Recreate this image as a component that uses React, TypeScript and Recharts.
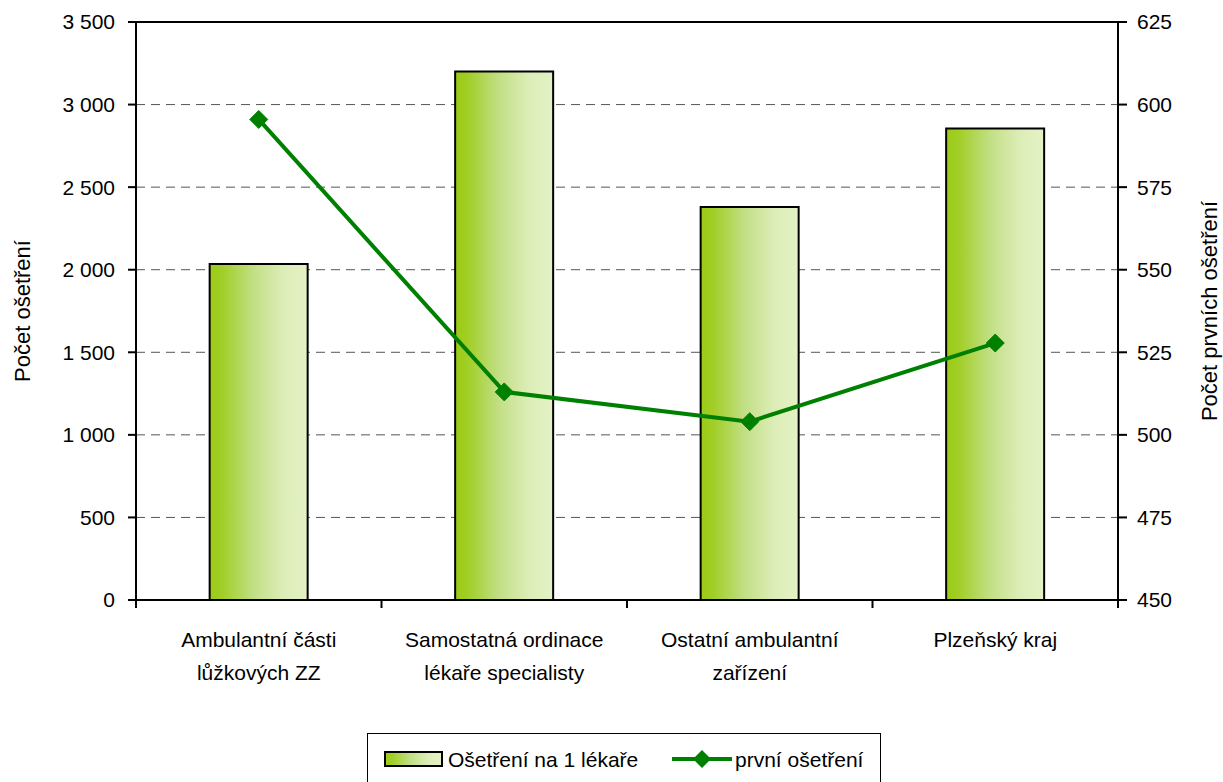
import React from 'react';
import { ComposedChart, Bar, Line, XAxis, YAxis, CartesianGrid, ReferenceLine } from 'recharts';

const categories = [
  'Ambulantní části\nlůžkových ZZ',
  'Samostatná ordinace\nlékaře specialisty',
  'Ostatní ambulantní\nzařízení',
  'Plzeňský kraj',
];
const treatmentsPerDoctor = [2035, 3200, 2380, 2855];
const firstTreatments = [595.5, 513, 504, 527.8];
const leftTicks = [0, 500, 1000, 1500, 2000, 2500, 3000, 3500];
const rightTicks = [450, 475, 500, 525, 550, 575, 600, 625];
const barSeriesName = 'Ošetření na 1 lékaře';
const lineSeriesName = 'první ošetření';
const leftAxisTitle = 'Počet ošetření';
const rightAxisTitle = 'Počet prvních ošetření';

const data = categories.map((c, i) => ({
  category: c,
  perDoctor: treatmentsPerDoctor[i],
  first: firstTreatments[i],
}));

const FONT = '"Liberation Sans", Arial, sans-serif';
const LINE_GREEN = '#008000';

const fmt = (v: number) =>
  v >= 1000 ? `${Math.floor(v / 1000)} ${String(v % 1000).padStart(3, '0')}` : String(v);

const GradientStops = () => (
  <>
    <stop offset="0%" stopColor="#9BCB16" />
    <stop offset="12%" stopColor="#A0CE25" />
    <stop offset="45%" stopColor="#C2DF85" />
    <stop offset="75%" stopColor="#DDEDB7" />
    <stop offset="100%" stopColor="#E4F2C5" />
  </>
);

const CategoryTick = (props: any) => {
  const { x, y, payload, index } = props;
  const lines = String(payload.value).split('\n');
  const half = payload.offset ?? 0;
  const last = index === categories.length - 1;
  return (
    <g>
      <line x1={x - half} x2={x - half} y1={y - 8} y2={y} stroke="#000" strokeWidth={2} />
      {last && <line x1={x + half} x2={x + half} y1={y - 8} y2={y} stroke="#000" strokeWidth={2} />}
      <text x={x} y={y} textAnchor="middle" fontFamily={FONT} fontSize={21} fill="#000">
        {lines.map((l, i) => (
          <tspan key={i} x={x} dy={i === 0 ? 39 : 33}>
            {l}
          </tspan>
        ))}
      </text>
    </g>
  );
};

const Diamond = (props: any) => {
  const { cx, cy, index } = props;
  if (cx == null || cy == null) return <g key={`d${index}`} />;
  const r = 9;
  return (
    <polygon
      key={`d${index}`}
      points={`${cx},${cy - r} ${cx + r},${cy} ${cx},${cy + r} ${cx - r},${cy}`}
      fill={LINE_GREEN}
      stroke={LINE_GREEN}
      strokeWidth={1}
    />
  );
};

const AxisTitle = (title: string, dx: number) => (props: any) => {
  const vb = props.viewBox || {};
  const cx = (vb.x ?? 0) + dx;
  const cy = (vb.y ?? 0) + (vb.height ?? 0) / 2;
  return (
    <text
      x={cx}
      y={cy}
      transform={`rotate(-90 ${cx} ${cy})`}
      textAnchor="middle"
      dominantBaseline="central"
      fontFamily={FONT}
      fontSize={22}
      fill="#000"
    >
      {title}
    </text>
  );
};

export default function App() {
  return (
    <div style={{ position: 'absolute', left: 0, top: 0, width: 1223, height: 782, overflow: 'hidden', background: '#fff' }}>
      <ComposedChart
        width={1223}
        height={782}
        data={data}
        margin={{ top: 22, right: 0, bottom: 82, left: 0 }}
        barCategoryGap="30%"
        style={{ fontFamily: FONT }}
      >
        <defs>
          <linearGradient id="barGrad" x1="0" y1="0" x2="1" y2="0">
            <GradientStops />
          </linearGradient>
        </defs>
        <CartesianGrid yAxisId="left" vertical={false} stroke="#555" strokeDasharray="9 6" strokeWidth={1} />
        <XAxis
          dataKey="category"
          height={100}
          axisLine={{ stroke: '#000', strokeWidth: 2 }}
          tickLine={false}
          tickSize={8}
          tickMargin={0}
          interval={0}
          tick={<CategoryTick />}
        />
        <YAxis
          yAxisId="left"
          orientation="left"
          width={136}
          domain={[0, 3500]}
          ticks={leftTicks}
          tickFormatter={fmt}
          axisLine={{ stroke: '#000', strokeWidth: 2 }}
          tickLine={{ stroke: '#000', strokeWidth: 2 }}
          tickSize={8}
          tickMargin={13}
          tick={{ fill: '#000', fontSize: 21, fontFamily: FONT }}
          label={{ content: AxisTitle(leftAxisTitle, 22) }}
        />
        <YAxis
          yAxisId="right"
          orientation="right"
          width={105}
          domain={[450, 625]}
          ticks={rightTicks}
          axisLine={{ stroke: '#000', strokeWidth: 2 }}
          tickLine={{ stroke: '#000', strokeWidth: 2 }}
          tickSize={9}
          tickMargin={10}
          tick={{ fill: '#000', fontSize: 21, fontFamily: FONT }}
          label={{ content: AxisTitle(rightAxisTitle, 91) }}
        />
        <ReferenceLine yAxisId="left" y={3500} stroke="#000" strokeWidth={2} />
        <Bar
          yAxisId="left"
          dataKey="perDoctor"
          name={barSeriesName}
          fill="url(#barGrad)"
          stroke="#000"
          strokeWidth={2}
          isAnimationActive={false}
        />
        <Line
          yAxisId="right"
          dataKey="first"
          name={lineSeriesName}
          type="linear"
          stroke={LINE_GREEN}
          strokeWidth={4}
          dot={(p: any) => <Diamond key={`dot-${p.index}`} {...p} />}
          activeDot={false}
          isAnimationActive={false}
        />
      </ComposedChart>
      <div
        style={{
          position: 'absolute',
          left: 367,
          top: 733,
          width: 514,
          height: 60,
          border: '1.5px solid #000',
          boxSizing: 'border-box',
        }}
      >
        <svg width={512} height={58} style={{ display: 'block' }}>
          <defs>
            <linearGradient id="legGrad" x1="0" y1="0" x2="1" y2="0">
              <GradientStops />
            </linearGradient>
          </defs>
          <rect x={17} y={18} width={57} height={14} fill="url(#legGrad)" stroke="#000" strokeWidth={2} />
          <text x={80} y={33} fontFamily={FONT} fontSize={21} fill="#000">
            {barSeriesName}
          </text>
          <line x1={304} x2={364} y1={25} y2={25} stroke={LINE_GREEN} strokeWidth={4} />
          <polygon points="334,16 343,25 334,34 325,25" fill={LINE_GREEN} />
          <text x={367} y={33} fontFamily={FONT} fontSize={21} fill="#000">
            {lineSeriesName}
          </text>
        </svg>
      </div>
    </div>
  );
}
